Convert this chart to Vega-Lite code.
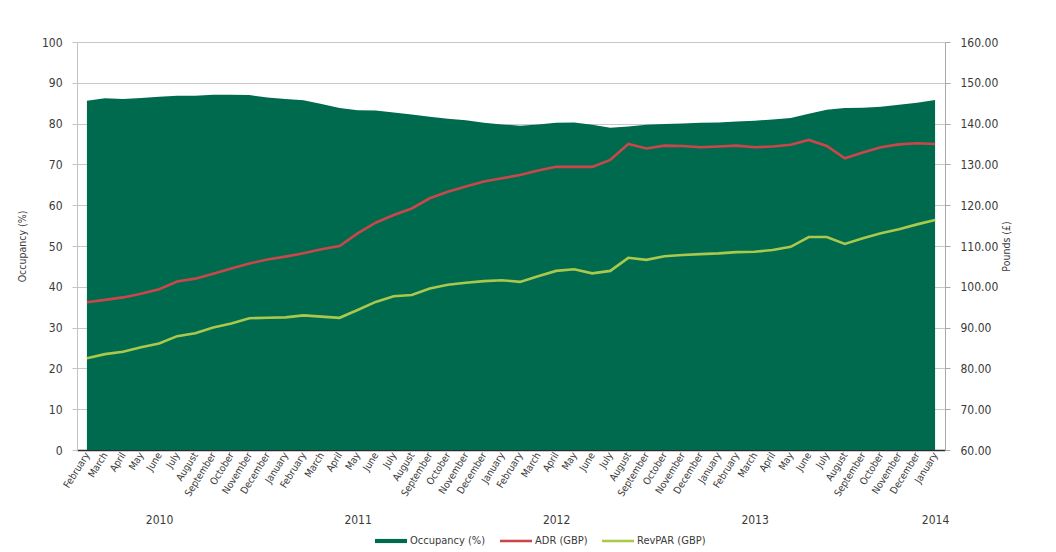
{
  "$schema": "https://vega.github.io/schema/vega-lite/v6.json",
  "width": 868,
  "height": 408,
  "autosize": {"type": "none"},
  "padding": {"left": 77, "top": 42, "right": 111, "bottom": 102},
  "background": "white",
  "config": {
    "font": "DejaVu Sans Condensed, Roboto, sans-serif",
    "view": {"stroke": null},
    "axis": {
      "labelFont": "DejaVu Sans Condensed, Roboto, sans-serif",
      "titleFont": "DejaVu Sans Condensed, Roboto, sans-serif",
      "labelColor": "#3a3a3a",
      "titleColor": "#3a3a3a",
      "titleFontWeight": "normal"
    }
  },
  "data": {
    "values": [
      {"m": "2010-02", "occ": 85.6, "adr": 96.2, "revpar": 82.5},
      {"m": "2010-03", "occ": 86.2, "adr": 96.8, "revpar": 83.5},
      {"m": "2010-04", "occ": 86.0, "adr": 97.4, "revpar": 84.1},
      {"m": "2010-05", "occ": 86.3, "adr": 98.3, "revpar": 85.2},
      {"m": "2010-06", "occ": 86.6, "adr": 99.4, "revpar": 86.1},
      {"m": "2010-07", "occ": 86.8, "adr": 101.3, "revpar": 87.9},
      {"m": "2010-08", "occ": 86.8, "adr": 102.0, "revpar": 88.6},
      {"m": "2010-09", "occ": 87.1, "adr": 103.2, "revpar": 90.0},
      {"m": "2010-10", "occ": 87.1, "adr": 104.5, "revpar": 91.0},
      {"m": "2010-11", "occ": 87.0, "adr": 105.7, "revpar": 92.3},
      {"m": "2010-12", "occ": 86.4, "adr": 106.7, "revpar": 92.4},
      {"m": "2011-01", "occ": 86.0, "adr": 107.4, "revpar": 92.5},
      {"m": "2011-02", "occ": 85.7, "adr": 108.2, "revpar": 93.0},
      {"m": "2011-03", "occ": 84.8, "adr": 109.2, "revpar": 92.7},
      {"m": "2011-04", "occ": 83.8, "adr": 110.0, "revpar": 92.4},
      {"m": "2011-05", "occ": 83.3, "adr": 113.1, "revpar": 94.3},
      {"m": "2011-06", "occ": 83.2, "adr": 115.7, "revpar": 96.3},
      {"m": "2011-07", "occ": 82.7, "adr": 117.6, "revpar": 97.7},
      {"m": "2011-08", "occ": 82.2, "adr": 119.2, "revpar": 98.0},
      {"m": "2011-09", "occ": 81.7, "adr": 121.7, "revpar": 99.6},
      {"m": "2011-10", "occ": 81.2, "adr": 123.3, "revpar": 100.5},
      {"m": "2011-11", "occ": 80.8, "adr": 124.6, "revpar": 101.0},
      {"m": "2011-12", "occ": 80.2, "adr": 125.8, "revpar": 101.4},
      {"m": "2012-01", "occ": 79.8, "adr": 126.6, "revpar": 101.6},
      {"m": "2012-02", "occ": 79.5, "adr": 127.4, "revpar": 101.2},
      {"m": "2012-03", "occ": 79.8, "adr": 128.5, "revpar": 102.6},
      {"m": "2012-04", "occ": 80.2, "adr": 129.4, "revpar": 103.9},
      {"m": "2012-05", "occ": 80.3, "adr": 129.4, "revpar": 104.3},
      {"m": "2012-06", "occ": 79.7, "adr": 129.4, "revpar": 103.3},
      {"m": "2012-07", "occ": 79.0, "adr": 131.1, "revpar": 103.9},
      {"m": "2012-08", "occ": 79.3, "adr": 135.0, "revpar": 107.1},
      {"m": "2012-09", "occ": 79.7, "adr": 133.9, "revpar": 106.6},
      {"m": "2012-10", "occ": 79.9, "adr": 134.6, "revpar": 107.5},
      {"m": "2012-11", "occ": 80.0, "adr": 134.5, "revpar": 107.8},
      {"m": "2012-12", "occ": 80.2, "adr": 134.2, "revpar": 108.0},
      {"m": "2013-01", "occ": 80.3, "adr": 134.4, "revpar": 108.2},
      {"m": "2013-02", "occ": 80.5, "adr": 134.6, "revpar": 108.5},
      {"m": "2013-03", "occ": 80.7, "adr": 134.2, "revpar": 108.6},
      {"m": "2013-04", "occ": 81.0, "adr": 134.4, "revpar": 109.0},
      {"m": "2013-05", "occ": 81.4, "adr": 134.8, "revpar": 109.8},
      {"m": "2013-06", "occ": 82.4, "adr": 136.0, "revpar": 112.2},
      {"m": "2013-07", "occ": 83.4, "adr": 134.5, "revpar": 112.2},
      {"m": "2013-08", "occ": 83.8, "adr": 131.5, "revpar": 110.5},
      {"m": "2013-09", "occ": 83.9, "adr": 132.9, "revpar": 111.9},
      {"m": "2013-10", "occ": 84.1, "adr": 134.2, "revpar": 113.1},
      {"m": "2013-11", "occ": 84.6, "adr": 134.9, "revpar": 114.1},
      {"m": "2013-12", "occ": 85.1, "adr": 135.2, "revpar": 115.3},
      {"m": "2014-01", "occ": 85.8, "adr": 135.0, "revpar": 116.4}
    ]
  },
  "resolve": {"scale": {"y": "independent"}, "axis": {"x": "independent"}},
  "layer": [
    {
      "mark": {"type": "area", "interpolate": "linear"},
      "encoding": {
        "x": {
          "field": "m",
          "type": "ordinal",
          "scale": {"type": "point", "padding": 0.55},
          "axis": {
            "title": null,
            "labelExpr": "['January','February','March','April','May','June','July','August','September','October','November','December'][toNumber(slice(datum.value, 5)) - 1]",
            "labelAngle": -58,
            "labelAlign": "right",
            "labelBaseline": "middle",
            "labelFontSize": 10,
            "labelPadding": 3,
            "ticks": false,
            "domainColor": "#2b2b2b",
            "domainWidth": 1.5,
            "grid": false
          }
        },
        "y": {
          "field": "occ",
          "type": "quantitative",
          "scale": {"domain": [0, 100], "nice": false},
          "axis": {
            "title": "Occupancy (%)",
            "titleFontSize": 10.5,
            "titlePadding": 14,
            "values": [0, 10, 20, 30, 40, 50, 60, 70, 80, 90, 100],
            "labelFontSize": 12,
            "labelPadding": 10,
            "tickSize": 5,
            "tickColor": "#c4c4c4",
            "domainColor": "#c4c4c4",
            "gridColor": "#c8c8c8",
            "grid": true
          }
        },
        "color": {
          "datum": "Occupancy (%)",
          "type": "nominal",
          "scale": {
            "domain": ["Occupancy (%)", "ADR (GBP)", "RevPAR (GBP)"],
            "range": ["#006a4e", "#c9474b", "#a9c84c"]
          },
          "legend": {
            "title": null,
            "orient": "none",
            "direction": "horizontal",
            "legendX": 298,
            "legendY": 483,
            "labelFont": "DejaVu Sans Condensed, Roboto, sans-serif",
            "labelFontSize": 11,
            "labelColor": "#3a3a3a",
            "labelOffset": 3,
            "columnPadding": 14,
            "symbolSize": 1024,
            "encode": {
              "symbols": {
                "update": {
                  "shape": {"signal": "datum.value === 'Occupancy (%)' ? 'M-1,-0.13H1V0.13H-1Z' : 'M-1,-0.08H1V0.08H-1Z'"},
                  "fill": {"scale": "color", "field": "value"},
                  "strokeWidth": {"value": 0},
                  "opacity": {"value": 1}
                }
              }
            }
          }
        }
      }
    },
    {
      "encoding": {
        "x": {
          "field": "m",
          "type": "ordinal",
          "axis": {
            "title": null,
            "orient": "bottom",
            "offset": 62,
            "labelExpr": "datum.value == '2010-06' ? '2010' : datum.value == '2011-05' ? '2011' : datum.value == '2012-04' ? '2012' : datum.value == '2013-03' ? '2013' : datum.value == '2014-01' ? '2014' : ''",
            "labelAngle": 0,
            "labelAlign": "center",
            "labelBaseline": "top",
            "labelFontSize": 12,
            "labelPadding": 2,
            "labelOverlap": false,
            "ticks": false,
            "domain": false,
            "grid": false
          }
        },
        "y": {
          "type": "quantitative",
          "scale": {"domain": [60, 160], "nice": false},
          "axis": {
            "title": "Pounds (£)",
            "orient": "right",
            "titleAngle": -90,
            "titleFontSize": 10.5,
            "titlePadding": 14,
            "values": [60, 70, 80, 90, 100, 110, 120, 130, 140, 150, 160],
            "format": ".2f",
            "labelFontSize": 12,
            "labelPadding": 10,
            "tickSize": 5,
            "tickColor": "#a8a8a8",
            "domainColor": "#a8a8a8",
            "grid": false
          }
        }
      },
      "layer": [
        {
          "mark": {"type": "line", "strokeWidth": 2.6, "interpolate": "linear"},
          "encoding": {
            "y": {"field": "adr"},
            "color": {"datum": "ADR (GBP)", "type": "nominal"}
          }
        },
        {
          "mark": {"type": "line", "strokeWidth": 2.6, "interpolate": "linear"},
          "encoding": {
            "y": {"field": "revpar"},
            "color": {"datum": "RevPAR (GBP)", "type": "nominal"}
          }
        }
      ]
    }
  ]
}
